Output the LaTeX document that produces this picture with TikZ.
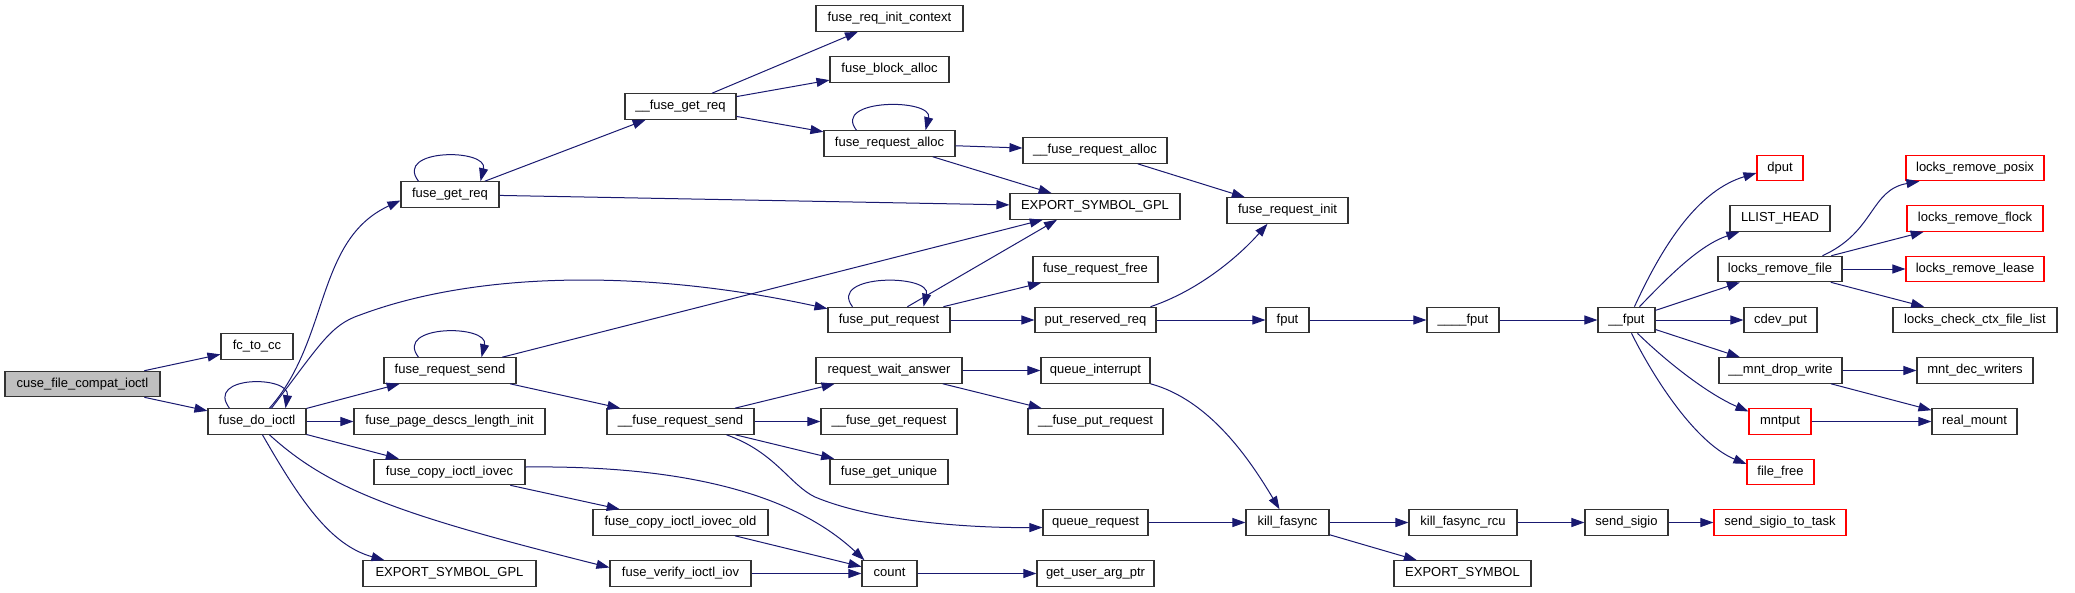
\documentclass[tikz,border=0pt]{standalone}
\usepackage{fontspec}
\setmainfont{Liberation Sans}
\usetikzlibrary{arrows.meta}
\definecolor{edgec}{HTML}{191970}
\definecolor{boxc}{HTML}{333333}
\definecolor{rootc}{HTML}{BFBFBF}
\definecolor{redc}{HTML}{FF0000}
\tikzset{
 box/.style={draw=boxc, line width=1.1pt, fill=white, minimum height=25.5pt, inner sep=0pt,
   font=\fontsize{13}{15}\selectfont, text height=9.5pt, text depth=2.7pt},
 rbox/.style={box, draw=redc},
 rootbox/.style={box, fill=rootc},
 conn/.style={draw=edgec, line width=1pt, -{Triangle[length=13pt,width=9pt]}},
}
\begin{document}
\begin{tikzpicture}[x=1pt,y=-1pt]
\useasboundingbox (0,0) rectangle (2075,592);
% column 1
\node[rootbox, minimum width=155pt] (cuse) at (82.5,384) {cuse\_file\_compat\_ioctl};
% column 2
\node[box, minimum width=72pt] (fctocc) at (257,346.5) {fc\_to\_cc};
\node[box, minimum width=98pt] (doioctl) at (257,421.5) {fuse\_do\_ioctl};
% column 3
\node[box, minimum width=98pt] (getreq) at (450,194.5) {fuse\_get\_req};
\node[box, minimum width=132pt] (reqsend) at (450,370.5) {fuse\_request\_send};
\node[box, minimum width=191pt] (pagedesc) at (449.5,421.5) {fuse\_page\_descs\_length\_init};
\node[box, minimum width=151pt] (copyiovec) at (449.5,472) {fuse\_copy\_ioctl\_iovec};
\node[box, minimum width=173pt] (exportgplb) at (449.5,573.5) {EXPORT\_SYMBOL\_GPL};
% column 4
\node[box, minimum width=111pt] (ugetreq) at (680.5,106.5) {\_\_fuse\_get\_req};
\node[box, minimum width=147pt] (frs) at (680.5,421.5) {\_\_fuse\_request\_send};
\node[box, minimum width=175pt] (copyold) at (680.5,522.5) {fuse\_copy\_ioctl\_iovec\_old};
\node[box, minimum width=141pt] (verify) at (680.5,573.5) {fuse\_verify\_ioctl\_iov};
% column 5
\node[box, minimum width=147pt] (initctx) at (889.5,18.5) {fuse\_req\_init\_context};
\node[box, minimum width=119pt] (blockalloc) at (889.5,69.5) {fuse\_block\_alloc};
\node[box, minimum width=131pt] (reqalloc) at (889.5,143.5) {fuse\_request\_alloc};
\node[box, minimum width=122pt] (putreq) at (889,320) {fuse\_put\_request};
\node[box, minimum width=146pt] (waitans) at (889,370.5) {request\_wait\_answer};
\node[box, minimum width=136pt] (ugetrequest) at (889,421.5) {\_\_fuse\_get\_request};
\node[box, minimum width=118pt] (getunique) at (889,472) {fuse\_get\_unique};
\node[box, minimum width=55pt] (count) at (889.5,573.5) {count};
% column 6
\node[box, minimum width=144pt] (ureqalloc) at (1095,150.5) {\_\_fuse\_request\_alloc};
\node[box, minimum width=170pt] (exportgplt) at (1095,206.5) {EXPORT\_SYMBOL\_GPL};
\node[box, minimum width=125pt] (reqfree) at (1095.5,269.5) {fuse\_request\_free};
\node[box, minimum width=121pt] (putreserved) at (1095.5,320) {put\_reserved\_req};
\node[box, minimum width=109pt] (queueint) at (1095.5,370.5) {queue\_interrupt};
\node[box, minimum width=135pt] (uputrequest) at (1095.5,421.5) {\_\_fuse\_put\_request};
\node[box, minimum width=105pt] (queuereq) at (1095.5,522.5) {queue\_request};
\node[box, minimum width=117pt] (userarg) at (1095.5,573.5) {get\_user\_arg\_ptr};
% column 7
\node[box, minimum width=121pt] (reqinit) at (1287.5,210.5) {fuse\_request\_init};
\node[box, minimum width=43pt] (fput) at (1287.5,320) {fput};
\node[box, minimum width=83pt] (killfasync) at (1287.5,522.5) {kill\_fasync};
% column 8
\node[box, minimum width=72pt] (ffput) at (1463,320) {\_\_\_\_fput};
\node[box, minimum width=108pt] (killrcu) at (1463,522.5) {kill\_fasync\_rcu};
\node[box, minimum width=137pt] (exportsym) at (1462.5,573.5) {EXPORT\_SYMBOL};
% column 9
\node[box, minimum width=57pt] (fputb) at (1626.5,320) {\_\_fput};
\node[box, minimum width=83pt] (sendsigio) at (1626.5,522.5) {send\_sigio};
% column 10
\node[rbox, minimum width=46pt] (dput) at (1780,168) {dput};
\node[box, minimum width=100pt] (llist) at (1780,218.5) {LLIST\_HEAD};
\node[box, minimum width=124pt] (lrf) at (1780,269) {locks\_remove\_file};
\node[box, minimum width=73pt] (cdevput) at (1780.5,320) {cdev\_put};
\node[box, minimum width=123pt] (mntdrop) at (1780.5,370.5) {\_\_mnt\_drop\_write};
\node[rbox, minimum width=62pt] (mntput) at (1780,421.5) {mntput};
\node[rbox, minimum width=67pt] (filefree) at (1780.5,472) {file\_free};
\node[rbox, minimum width=132pt] (sigtask) at (1780,522.5) {send\_sigio\_to\_task};
% column 11
\node[rbox, minimum width=138pt] (posix) at (1975,168) {locks\_remove\_posix};
\node[rbox, minimum width=136pt] (flock) at (1975,218.5) {locks\_remove\_flock};
\node[rbox, minimum width=138pt] (lease) at (1975,269) {locks\_remove\_lease};
\node[box, minimum width=164pt] (ctxlist) at (1975,320) {locks\_check\_ctx\_file\_list};
\node[box, minimum width=116pt] (decwriters) at (1975,370.5) {mnt\_dec\_writers};
\node[box, minimum width=85pt] (realmount) at (1974.5,421.5) {real\_mount};

% ---- edges ----
\draw[conn] (cuse) -- (fctocc);
\draw[conn] (cuse) -- (doioctl);
% fuse_do_ioctl
\draw[conn] ([xshift=22pt]doioctl.north west) .. controls +(-25,-33) and +(5,-33) .. ([xshift=-21pt]doioctl.north east);
\draw[conn] ([xshift=62pt]doioctl.north west) .. controls (330,340) and (315,240) .. ([yshift=-6pt]getreq.west);
\draw[conn] ([xshift=64pt]doioctl.north west) .. controls (320,345) and (330,325) .. (360,315)
   .. controls (480,270) and (650,270) .. ([yshift=-2pt]putreq.north west);
\draw[conn] (doioctl) -- (reqsend);
\draw[conn] (doioctl) -- (pagedesc);
\draw[conn] (doioctl) -- (copyiovec);
\draw[conn] ([xshift=62pt]doioctl.south west) .. controls (330,490) and (400,515) .. ([yshift=6pt]verify.west);
\draw[conn] ([xshift=55pt]doioctl.south west) .. controls (300,500) and (330,545) .. ([xshift=22pt]exportgplb.north west);
% fuse_get_req
\draw[conn] ([xshift=18pt]getreq.north west) .. controls +(-25,-33) and +(8,-33) .. ([xshift=-19pt]getreq.north east);
\draw[conn] (getreq) -- (ugetreq);
\draw[conn] (getreq) -- (exportgplt);
% __fuse_get_req
\draw[conn] (ugetreq) -- (initctx);
\draw[conn] (ugetreq) -- (blockalloc);
\draw[conn] (ugetreq) -- (reqalloc);
% fuse_request_alloc
\draw[conn] ([xshift=33pt]reqalloc.north west) .. controls +(-25,-32) and +(8,-32) .. ([xshift=-30pt]reqalloc.north east);
\draw[conn] (reqalloc) -- (ureqalloc);
\draw[conn] (reqalloc) -- (exportgplt);
\draw[conn] (ureqalloc) -- (reqinit);
% fuse_request_send
\draw[conn] ([xshift=35pt]reqsend.north west) .. controls +(-25,-33) and +(8,-33) .. ([xshift=-35pt]reqsend.north east);
\draw[conn] (reqsend) -- (exportgplt);
\draw[conn] (reqsend) -- (frs);
% fuse_put_request
\draw[conn] ([xshift=25pt]putreq.north west) .. controls +(-25,-33) and +(8,-33) .. ([xshift=-27pt]putreq.north east);
\draw[conn] ([xshift=80pt]putreq.north west) -- ([xshift=-38pt]exportgplt.south);
\draw[conn] (putreq) -- (reqfree);
\draw[conn] (putreq) -- (putreserved);
\draw[conn] ([xshift=-6pt]putreserved.north east) .. controls (1200,290) and (1240,255) .. ([xshift=-20pt]reqinit.south);
\draw[conn] (putreserved) -- (fput);
\draw[conn] (fput) -- (ffput);
\draw[conn] (ffput) -- (fputb);
% __fput
\draw[conn] ([xshift=37pt]fputb.north west) .. controls (1665,240) and (1700,190) .. ([yshift=-5pt]dput.west);
\draw[conn] ([xshift=42pt]fputb.north west) .. controls (1670,275) and (1700,245) .. ([xshift=10pt]llist.south west);
\draw[conn] (fputb) -- (lrf);
\draw[conn] (fputb) -- (cdevput);
\draw[conn] (fputb) -- (mntdrop);
\draw[conn] ([xshift=40pt]fputb.south west) .. controls (1670,365) and (1710,395) .. ([yshift=10pt]mntput.west);
\draw[conn] ([xshift=34pt]fputb.south west) .. controls (1660,390) and (1700,445) .. ([yshift=8pt]filefree.west);
% locks_remove_file
\draw[conn] ([xshift=105pt]lrf.north west) .. controls (1875,232) and (1870,190) .. ([xshift=14pt]posix.south west);
\draw[conn] (lrf) -- (flock);
\draw[conn] (lrf) -- (lease);
\draw[conn] (lrf) -- (ctxlist);
% mnt
\draw[conn] (mntdrop) -- (decwriters);
\draw[conn] (mntdrop) -- (realmount);
\draw[conn] (mntput) -- (realmount);
% __fuse_request_send
\draw[conn] (frs) -- (waitans);
\draw[conn] (frs) -- (ugetrequest);
\draw[conn] (frs) -- (getunique);
\draw[conn] ([xshift=120pt]frs.south west) .. controls (775,452) and (790,485) .. (815,497)
   .. controls (870,520) and (960,528) .. ([yshift=-5pt]queuereq.west);
\draw[conn] (waitans) -- (queueint);
\draw[conn] (waitans) -- (uputrequest);
\draw[conn] (queueint.south east) .. controls (1210,400) and (1250,460) .. ([xshift=-8pt]killfasync.north);
\draw[conn] (queuereq) -- (killfasync);
\draw[conn] (killfasync) -- (killrcu);
\draw[conn] (killfasync) -- (exportsym);
\draw[conn] (killrcu) -- (sendsigio);
\draw[conn] (sendsigio) -- (sigtask);
% copy / count
\draw[conn] ([yshift=5pt]copyiovec.east) .. controls (700,465) and (800,500) .. ([xshift=3pt]count.north west);
\draw[conn] (copyiovec) -- (copyold);
\draw[conn] (copyold) -- (count);
\draw[conn] (verify) -- (count);
\draw[conn] (count) -- (userarg);
\end{tikzpicture}
\end{document}
